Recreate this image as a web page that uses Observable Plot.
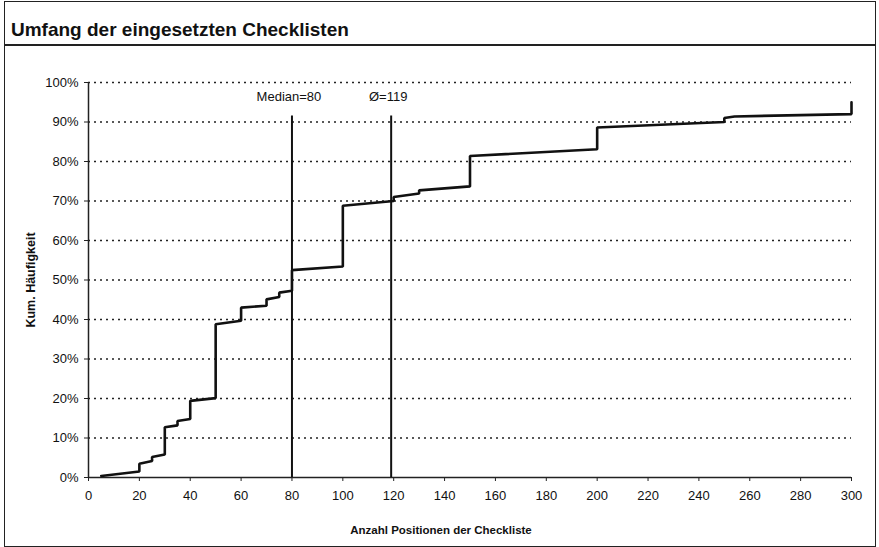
<!DOCTYPE html>
<html>
<head>
<meta charset="utf-8">
<script src="https://cdn.jsdelivr.net/npm/d3@7"></script>
<script src="https://cdn.jsdelivr.net/npm/@observablehq/plot@0.6"></script>
<style>
  html, body { margin: 0; padding: 0; background: #fff; }
  body { width: 879px; height: 547px; position: relative; font-family: "Liberation Sans", Arial, sans-serif; }
  #frame { position: absolute; left: 4px; top: 1px; width: 870px; height: 544px; border: 1px solid #222; }
  #title { height: 44px; border-bottom: 2px solid #222; font-weight: bold; font-size: 19px; line-height: 22px; padding: 17px 0 0 6px; box-sizing: border-box; color: #111; }
</style>
</head>
<body>
<div id="frame">
  <div id="title">Umfang der eingesetzten Checklisten</div>
  <div id="chart"></div>
</div>
<script>
// Cumulative frequency curve (step points)
const positions = [5, 20, 20, 25, 25, 30, 30, 35, 35, 40, 40, 50, 50, 60, 60, 70, 70, 75, 75, 80, 80, 100, 100, 120, 120, 130, 130, 150, 150, 200, 200, 250, 250, 254, 300, 300];
const cumPercent = [0.4, 1.5, 3.5, 4.2, 5.2, 5.8, 12.7, 13.2, 14.3, 14.8, 19.4, 20.1, 38.8, 39.7, 43.0, 43.5, 45.1, 45.7, 46.8, 47.3, 52.5, 53.4, 68.8, 70.0, 71.0, 71.9, 72.7, 73.7, 81.4, 83.1, 88.6, 90.0, 91.0, 91.4, 92.0, 95.0];

// Reference lines
const refNames = ["Median=80", "\u00D8=119"];
const refValues = [80, 119];
const refTop = 91.5;
const labelY = 96.3;

// Ticks
const xTicks = [0, 20, 40, 60, 80, 100, 120, 140, 160, 180, 200, 220, 240, 260, 280, 300];
const yTicks = [0, 10, 20, 30, 40, 50, 60, 70, 80, 90, 100];
const gridTicks = [10, 20, 30, 40, 50, 60, 70, 80, 90, 100];

const xLabel = "Anzahl Positionen der Checkliste";
const yLabel = "Kum. H\u00E4ufigkeit";

const curve = positions.map((x, i) => ({x, y: cumPercent[i]}));
const refs = refValues.map((v, i) => ({x: v, name: refNames[i]}));

const chart = Plot.plot({
  width: 870,
  height: 496,
  marginLeft: 83,
  marginRight: 24,
  marginTop: 36,
  marginBottom: 65,
  style: { fontFamily: "Liberation Sans, Arial, sans-serif", fontSize: "13px", color: "#111", background: "#fff" },
  x: { domain: [0, 300] },
  y: { domain: [0, 100] },
  marks: [
    Plot.ruleY(gridTicks, { stroke: "#222", strokeWidth: 1.3, strokeDasharray: "2,4" }),
    Plot.axisY({ ticks: yTicks, tickSize: 4, tickPadding: 6, tickFormat: d => d + "%", label: null, fontSize: 13, stroke: "#222" }),
    Plot.axisX({ ticks: xTicks, tickSize: 4, tickPadding: 9, label: null, fontSize: 13, stroke: "#222" }),
    Plot.ruleX([0], { stroke: "#222", strokeWidth: 1.5 }),
    Plot.ruleY([0], { stroke: "#222", strokeWidth: 1.5 }),
    Plot.ruleX(refs, { x: "x", y1: 0, y2: refTop, stroke: "#111", strokeWidth: 2 }),
    Plot.text(refs, { x: "x", y: labelY, text: "name", fontSize: 13, fill: "#111", dx: -3 }),
    Plot.line(curve, { x: "x", y: "y", stroke: "#111", strokeWidth: 2.6, strokeLinejoin: "miter" }),
    Plot.text([xLabel], { frameAnchor: "bottom", dx: -29, dy: 56, fontSize: 11.5, fontWeight: "bold", fill: "#111" }),
    Plot.text([yLabel], { frameAnchor: "left", textAnchor: "middle", dx: -58, rotate: -90, fontSize: 12.5, fontWeight: "bold", fill: "#111", style: { letterSpacing: "1.2px" } })
  ]
});
document.getElementById("chart").appendChild(chart);
</script>
</body>
</html>
